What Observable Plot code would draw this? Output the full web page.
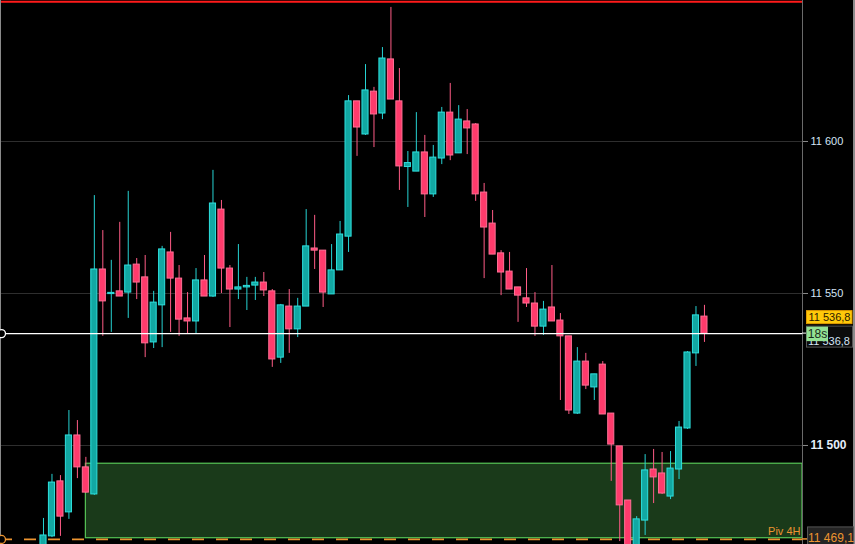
<!DOCTYPE html>
<html><head><meta charset="utf-8">
<script src="https://cdn.jsdelivr.net/npm/d3@7"></script>
<script src="https://cdn.jsdelivr.net/npm/@observablehq/plot@0.6"></script>
<style>
html,body{margin:0;padding:0;background:#000;overflow:hidden}
#chart svg{display:block}
</style></head><body><div id="chart"></div>
<script>
// ---- data ----
const opens = [
 11465.5, 11470.1, 11488.2, 11478.0, 11503.3, 11492.8, 11483.9, 11557.9, 11549.8, 11550.7,
 11550.3, 11559.5, 11555.3, 11533.9, 11546.1, 11563.5, 11554.9, 11541.8, 11540.8, 11554.3,
 11549.0, 11577.6, 11558.2, 11551.3, 11552.0, 11552.6, 11553.6, 11550.7, 11528.9, 11545.7,
 11538.2, 11545.7, 11564.8, 11564.1, 11549.7, 11557.6, 11568.7, 11613.2, 11602.3, 11616.4,
 11609.2, 11627.0, 11613.2, 11591.6, 11590.1, 11596.4, 11582.6, 11594.4, 11609.5, 11596.1,
 11606.6, 11605.6, 11583.2, 11573.0, 11563.2, 11557.2, 11552.0, 11548.4, 11546.7, 11539.1,
 11545.4, 11541.1, 11535.9, 11510.5, 11527.6, 11519.1, 11526.6, 11510.5, 11499.7, 11481.9,
 11464.8, 11475.3, 11492.1, 11490.8, 11483.2, 11492.1, 11505.6, 11530.3, 11542.4];
const highs = [
 11476.0, 11490.5, 11490.1, 11511.5, 11508.2, 11496.1, 11582.2, 11570.7, 11560.9, 11573.4,
 11583.6, 11561.5, 11562.5, 11550.7, 11565.5, 11570.1, 11559.2, 11550.3, 11558.2, 11562.5,
 11590.5, 11580.6, 11559.2, 11566.1, 11555.3, 11555.3, 11556.9, 11551.3, 11546.4, 11551.3,
 11548.4, 11577.6, 11575.7, 11564.1, 11566.1, 11573.7, 11615.1, 11613.2, 11625.3, 11617.8,
 11630.9, 11644.1, 11624.0, 11596.7, 11609.5, 11602.0, 11598.7, 11611.2, 11619.1, 11611.8,
 11610.5, 11605.9, 11586.2, 11577.3, 11564.1, 11563.5, 11552.0, 11558.2, 11550.3, 11547.4,
 11559.2, 11543.4, 11535.9, 11532.2, 11530.3, 11523.4, 11527.6, 11510.5, 11499.7, 11481.9,
 11476.6, 11497.0, 11498.7, 11497.7, 11498.0, 11507.9, 11530.9, 11545.7, 11546.1];
const lows = [
 11463.8, 11469.7, 11470.1, 11475.7, 11489.1, 11484.3, 11483.6, 11535.9, 11537.2, 11549.0,
 11541.8, 11548.0, 11528.9, 11531.9, 11532.2, 11537.2, 11535.9, 11536.5, 11536.8, 11549.0,
 11548.7, 11550.0, 11538.8, 11548.0, 11544.4, 11547.7, 11549.0, 11525.7, 11527.0, 11530.3,
 11535.5, 11545.7, 11557.9, 11545.4, 11549.7, 11557.6, 11563.5, 11595.1, 11602.0, 11598.0,
 11607.2, 11613.8, 11583.9, 11578.3, 11590.1, 11575.0, 11581.6, 11592.4, 11593.7, 11596.1,
 11595.7, 11580.3, 11554.9, 11562.8, 11549.3, 11551.3, 11540.5, 11545.4, 11535.9, 11536.2,
 11540.8, 11514.8, 11510.2, 11510.2, 11518.4, 11514.8, 11510.2, 11488.2, 11468.4, 11463.8,
 11463.8, 11470.4, 11480.9, 11483.9, 11482.2, 11488.8, 11505.3, 11526.0, 11533.9];
const closes = [
 11470.4, 11487.8, 11476.6, 11503.3, 11492.8, 11484.5, 11557.9, 11547.4, 11550.2, 11549.0,
 11559.2, 11553.6, 11533.6, 11547.0, 11564.5, 11554.9, 11541.4, 11540.8, 11554.3, 11549.0,
 11579.6, 11558.2, 11551.3, 11552.0, 11552.5, 11553.6, 11551.0, 11528.3, 11546.1, 11538.2,
 11545.7, 11565.5, 11564.1, 11550.3, 11557.6, 11569.4, 11613.2, 11604.6, 11616.8, 11608.9,
 11627.3, 11613.8, 11591.8, 11592.9, 11596.4, 11582.6, 11594.7, 11609.5, 11595.4, 11607.2,
 11604.3, 11582.6, 11571.7, 11562.8, 11556.9, 11551.3, 11549.3, 11546.7, 11539.1, 11544.7,
 11540.8, 11535.9, 11511.5, 11527.6, 11519.7, 11523.4, 11510.2, 11500.3, 11480.3, 11464.8,
 11475.7, 11491.8, 11489.5, 11484.2, 11492.4, 11505.9, 11530.6, 11542.8, 11536.8];

const gridTicks = [11500, 11550, 11600];
const boldTicks = [11500];
const lastPrice = 11536.8;
const lastLabel = "11 536,8";
const countdown = "18s";
const pivot = 11469.1;
const pivotLabel = "11 469,1";
const pivotName = "Piv 4H";
const sessionHigh = 11646.0;
const zone = {start: 5, bottom: 11469.5, top: 11494.0};

// ---- build ----
const candles = opens.map((o, i) => ({i, open: o, high: highs[i], low: lows[i], close: closes[i]}));
const ups = candles.filter(d => d.close >= d.open);
const downs = candles.filter(d => d.close < d.open);

const xDomain = [-5.074, 89.57];
const yDomain = [11467.43, 11646.38];
const TEAL = "#12a8a3", TEAL_E = "#2ee0de", TEAL_W = "#26d3d3";
const PINK = "#ff3b6c", PINK_E = "#ff7096", PINK_W = "#ff5c86";
const ORANGE = "#ec9430";
const hw = 0.36;
const fmt = d => d3.format(",")(d).replace(/,/g, " ");

const plot = Plot.plot({
  width: 855, height: 544,
  marginLeft: 0, marginRight: 53, marginTop: 0, marginBottom: 0,
  style: {background: "#000", fontFamily: "'Liberation Sans', Arial, sans-serif", overflow: "visible"},
  x: {domain: xDomain, axis: null},
  y: {domain: yDomain, axis: null},
  marks: [
    Plot.ruleY(gridTicks, {stroke: "#2f2f2f"}),
    Plot.rect([zone], {x1: "start", x2: () => xDomain[1], y1: "bottom", y2: "top", fill: "#1a3a1a", stroke: "#56c456", strokeWidth: 1.2}),
    Plot.ruleY([pivot], {stroke: ORANGE, strokeWidth: 1.6, strokeDasharray: "12,12"}),
    Plot.ruleY([sessionHigh], {stroke: "#ff1a1a", strokeWidth: 2}),
    Plot.ruleX(ups, {x: "i", y1: "low", y2: "high", stroke: TEAL_W, strokeWidth: 1}),
    Plot.ruleX(downs, {x: "i", y1: "low", y2: "high", stroke: PINK_W, strokeWidth: 1}),
    Plot.rect(ups, {x1: d => d.i - hw, x2: d => d.i + hw, y1: "open", y2: "close", fill: TEAL, stroke: TEAL_E, strokeWidth: 1}),
    Plot.rect(downs, {x1: d => d.i - hw, x2: d => d.i + hw, y1: "open", y2: "close", fill: PINK, stroke: PINK_E, strokeWidth: 1}),
    Plot.ruleY([lastPrice], {stroke: "#ffffff", strokeWidth: 1.2}),
    Plot.frame({anchor: "left", stroke: "#8a8a8a"}),
    Plot.frame({anchor: "right", stroke: "#6a6a6a"}),
    Plot.dot([lastPrice], {y: d => d, frameAnchor: "left", dx: 1, r: 4, stroke: "#ffffff", fill: "#000", strokeWidth: 1.3}),
    Plot.dot([pivot], {y: d => d, frameAnchor: "left", dx: 1, r: 4, stroke: ORANGE, fill: "#000", strokeWidth: 1.3}),
    Plot.text([pivot], {y: d => d, text: () => pivotName, frameAnchor: "right", textAnchor: "end", dx: -2, dy: -8, fill: ORANGE, fontSize: 11}),
    Plot.axisY(gridTicks.filter(t => !boldTicks.includes(t)), {anchor: "right", tickSize: 5, tickPadding: 3, tickFormat: fmt, stroke: "#8a8a8a", fill: "#d4e4f6", fontSize: 11}),
    Plot.axisY(boldTicks, {anchor: "right", tickSize: 5, tickPadding: 3, tickFormat: fmt, stroke: "#8a8a8a", fill: "#e4eefa", fontSize: 12, fontWeight: "bold"})
  ]
});

document.getElementById("chart").appendChild(plot);

// ---- price labels in the right margin, positioned with the plot's y scale ----
const svg = d3.select(plot);
const yS = plot.scale("y");
const yc = yS.apply(lastPrice);
const yp = yS.apply(pivot);
const g = svg.append("g").attr("font-family", "'Liberation Sans', Arial, sans-serif").attr("font-size", 11);

// right edge strip
g.append("rect").attr("x", 853).attr("y", 0).attr("width", 2).attr("height", 544).attr("fill", "#8c8c8c");

// tick for last price
g.append("line").attr("x1", 802).attr("x2", 807).attr("y1", yc).attr("y2", yc).attr("stroke", "#fff");
// dark bid label
g.append("rect").attr("x", 806.5).attr("y", yc - 7).attr("width", 46).attr("height", 21).attr("fill", "#0c0c0c").attr("stroke", "#555");
g.append("text").attr("x", 850).attr("y", yc + 11.5).attr("text-anchor", "end").attr("fill", "#d4e4f6").text(lastLabel);
// yellow last label
g.append("rect").attr("x", 806.5).attr("y", yc - 22.5).attr("width", 45.5).attr("height", 13).attr("fill", "#ffc90a").attr("stroke", "#e09a00");
g.append("text").attr("x", 829.5).attr("y", yc - 12).attr("text-anchor", "middle").attr("fill", "#2a1800").text(lastLabel);
// countdown
g.append("rect").attr("x", 806.5).attr("y", yc - 6.5).attr("width", 21.5).attr("height", 14.5).attr("fill", "#93e293");
g.append("text").attr("x", 817.5).attr("y", yc + 5).attr("text-anchor", "middle").attr("font-size", 12).attr("fill", "#1a2a1a").text(countdown);

// pivot label
g.append("line").attr("x1", 802).attr("x2", 807).attr("y1", yp).attr("y2", yp).attr("stroke", ORANGE).attr("stroke-width", 1.5);
g.append("rect").attr("x", 807.5).attr("y", yp - 12).attr("width", 46).attr("height", 20).attr("fill", "#242424").attr("stroke", "#555");
g.append("text").attr("x", 831).attr("y", yp + 3.5).attr("text-anchor", "middle").attr("font-size", 12).attr("fill", ORANGE).text(pivotLabel);
</script></body></html>
